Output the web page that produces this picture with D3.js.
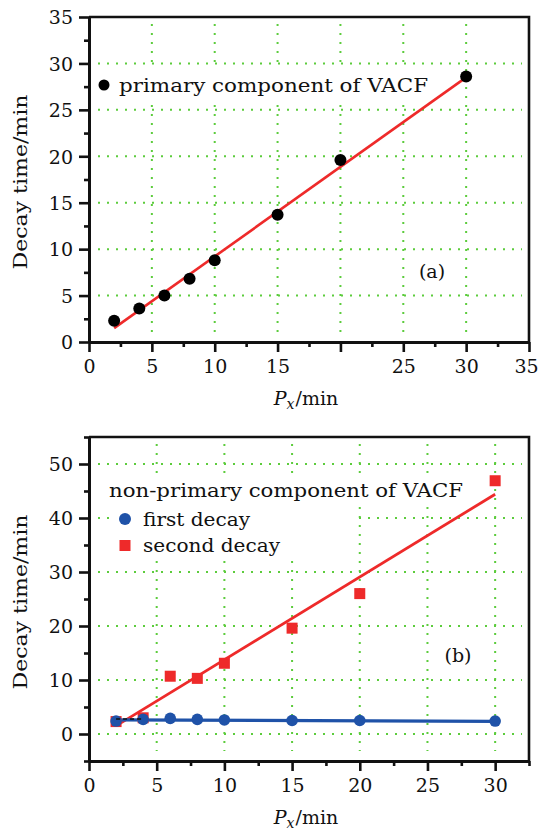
<!DOCTYPE html>
<html><head><meta charset="utf-8">
<script src="https://cdn.jsdelivr.net/npm/d3@7"></script>
<style>
body{margin:0;background:#fff;}
svg text{font-family:"DejaVu Serif",serif;fill:#111;}
</style></head>
<body>
<svg id="c" width="540" height="833"></svg>
<script>
// ---------- data ----------
const pxA = [2, 4, 6, 8, 10, 15, 20, 30];
const primary = [2.3, 3.6, 5.0, 6.8, 8.8, 13.7, 19.6, 28.6];
const fitPrimaryX = [2, 30];
const fitPrimaryY = [1.5, 28.5];
const xTicksA = [0, 5, 10, 15, 20, 25, 30, 35];
const xTickLabelsA = ["0", "5", "10", "15", "", "25", "30", "35"];
const yTicksA = [0, 5, 10, 15, 20, 25, 30, 35];

const pxB = [2, 4, 6, 8, 10, 15, 20, 30];
const firstDecay = [2.4, 2.7, 2.9, 2.7, 2.6, 2.5, 2.5, 2.4];
const secondDecay = [2.3, 3.0, 10.7, 10.3, 13.1, 19.6, 26.0, 46.9];
const fitFirstX = [2, 30];
const fitFirstY = [2.6, 2.35];
const fitSecondX = [2, 30];
const fitSecondY = [1.5, 44.4];
const xTicksB = [0, 5, 10, 15, 20, 25, 30];
const yTicksB = [0, 10, 20, 30, 40, 50];

// ---------- styling ----------
const RED = "#ee2a2a", BLUE = "#1f52a8", GREEN = "#5ccc3c";
const FONT = "DejaVu Serif";
const svg = d3.select("#c");

function panel(o) {
  const g = svg.append("g");
  const x = d3.scaleLinear().domain(o.xDomain).range([89, 529]);
  const y = d3.scaleLinear().domain(o.yDomain).range([o.bottom, o.top]);

  // grid
  const grid = g.append("g").attr("stroke", GREEN).attr("stroke-width", 2)
    .attr("stroke-dasharray", "2 7").attr("fill", "none");
  o.gridX.forEach(v => grid.append("line").attr("x1", x(v)).attr("x2", x(v))
    .attr("y1", o.top + 7).attr("y2", o.bottom - 10));
  o.gridY.forEach(v => grid.append("line").attr("y1", y(v)).attr("y2", y(v))
    .attr("x1", 98).attr("x2", 522));

  // legend backgrounds
  o.legendRects.forEach(r => g.append("rect").attr("x", r[0]).attr("y", r[1])
    .attr("width", r[2]).attr("height", r[3]).attr("fill", "#fff"));

  // frame top/right
  g.append("path").attr("d", `M${x.range()[0]},${o.top}H529V${o.bottom}`)
    .attr("fill", "none").attr("stroke", "#111").attr("stroke-width", 2.6);

  // axes
  const styleAxis = (sel) => {
    sel.select(".domain").attr("stroke", "#111").attr("stroke-width", 3);
    sel.selectAll(".tick line").attr("stroke", "#111").attr("stroke-width", 2.6);
  };
  const minorX = g.append("g").attr("transform", `translate(0,${o.bottom})`)
    .call(d3.axisBottom(x).tickValues(o.minorX).tickSize(5).tickSizeOuter(0).tickFormat(""));
  styleAxis(minorX);
  const minorY = g.append("g").attr("transform", `translate(89,0)`)
    .call(d3.axisLeft(y).tickValues(o.minorY).tickSize(5).tickSizeOuter(0).tickFormat(""));
  styleAxis(minorY);

  const ax = g.append("g").attr("transform", `translate(0,${o.bottom})`)
    .call(d3.axisBottom(x).tickValues(o.xTicks).tickSize(10).tickSizeOuter(0)
      .tickFormat((d, i) => o.xLabels[i]));
  styleAxis(ax);
  ax.selectAll("text").attr("y", 31).attr("dy", 0).attr("font-size", 19)
    .attr("font-family", FONT).attr("fill", "#111")
    .attr("x", d => (x(d) > 520 ? -3 : 0));
  const ay = g.append("g").attr("transform", `translate(89,0)`)
    .call(d3.axisLeft(y).tickValues(o.yTicks).tickSize(10).tickSizeOuter(0));
  styleAxis(ay);
  ay.selectAll("text").attr("x", -16).attr("dy", "0.36em").attr("font-size", 19)
    .attr("font-family", FONT).attr("fill", "#111");

  // axis titles
  g.append("text").attr("transform", `translate(27,${o.ylabelY}) rotate(-90)`)
    .attr("text-anchor", "middle").attr("font-size", 19)
    .attr("textLength", 175).attr("lengthAdjust", "spacingAndGlyphs")
    .text("Decay time/min");
  const xt = g.append("text").attr("x", 306).attr("y", o.bottom + 63)
    .attr("text-anchor", "middle").attr("font-size", 19);
  xt.append("tspan").attr("font-style", "italic").text("P");
  xt.append("tspan").attr("font-style", "italic").attr("font-size", 14).attr("dy", 4).text("x");
  xt.append("tspan").attr("dy", -4).attr("dx", 1).text("/min");

  g.append("text").attr("x", o.tag[0]).attr("y", o.tag[1]).attr("text-anchor", "middle")
    .attr("font-size", 19).text(o.tagText);
  return { g, x, y };
}

// ---------- panel (a) ----------
const A = panel({
  xDomain: [0, 35], yDomain: [0, 35], top: 17, bottom: 342,
  gridX: [5, 10, 15, 20, 25, 30], gridY: [5, 10, 15, 20, 25, 30],
  minorX: [2.5, 7.5, 12.5, 17.5, 22.5, 27.5, 32.5], minorY: [2.5, 7.5, 12.5, 17.5, 22.5, 27.5, 32.5],
  xTicks: xTicksA, xLabels: xTickLabelsA, yTicks: yTicksA,
  legendRects: [[93, 65, 340, 36]], ylabelY: 182, tag: [432, 278], tagText: "(a)"
});
A.g.append("path").datum(d3.zip(fitPrimaryX, fitPrimaryY))
  .attr("d", d3.line().x(d => A.x(d[0])).y(d => A.y(d[1])))
  .attr("stroke", RED).attr("stroke-width", 2.6).attr("fill", "none");
A.g.selectAll("circle.p").data(d3.zip(pxA, primary)).join("circle")
  .attr("cx", d => A.x(d[0])).attr("cy", d => A.y(d[1])).attr("r", 6).attr("fill", "#000");
A.g.append("circle").attr("cx", 104).attr("cy", 85).attr("r", 5.5).attr("fill", "#000");
A.g.append("text").attr("x", 119).attr("y", 92).attr("font-size", 19)
  .attr("textLength", 309).attr("lengthAdjust", "spacingAndGlyphs")
  .text("primary component of VACF");

// ---------- panel (b) ----------
const B = panel({
  xDomain: [0, 32.5], yDomain: [-5, 55], top: 437, bottom: 761,
  gridX: [5, 10, 15, 20, 25, 30], gridY: [0, 10, 20, 30, 40, 50],
  minorX: [2.5, 7.5, 12.5, 17.5, 22.5, 27.5, 32.5], minorY: [-5, 5, 15, 25, 35, 45, 55],
  xTicks: xTicksB, xLabels: xTicksB.map(String), yTicks: yTicksB,
  legendRects: [[106, 474, 362, 31], [113, 505, 243, 55]], ylabelY: 602, tag: [458, 662], tagText: "(b)"
});
B.g.append("path").datum(d3.zip(fitSecondX, fitSecondY))
  .attr("d", d3.line().x(d => B.x(d[0])).y(d => B.y(d[1])))
  .attr("stroke", RED).attr("stroke-width", 2.8).attr("fill", "none");
B.g.append("path").datum(d3.zip(fitFirstX, fitFirstY))
  .attr("d", d3.line().x(d => B.x(d[0])).y(d => B.y(d[1])))
  .attr("stroke", BLUE).attr("stroke-width", 3.2).attr("fill", "none");
B.g.selectAll("rect.s").data(d3.zip(pxB, secondDecay)).join("rect").attr("class", "s")
  .attr("x", d => B.x(d[0]) - 5.5).attr("y", d => B.y(d[1]) - 5.5)
  .attr("width", 11).attr("height", 11).attr("fill", RED);
B.g.selectAll("circle.f").data(d3.zip(pxB, firstDecay)).join("circle").attr("class", "f")
  .attr("cx", d => B.x(d[0])).attr("cy", d => B.y(d[1])).attr("r", 5.8).attr("fill", BLUE);
B.g.append("line").attr("x1", B.x(pxB[0])).attr("x2", B.x(pxB[1]))
  .attr("y1", B.y(fitFirstY[0]) - 1).attr("y2", B.y(fitFirstY[0]) - 1)
  .attr("stroke", "#111").attr("stroke-width", 1.5).attr("stroke-dasharray", "4 3");

B.g.append("text").attr("x", 109).attr("y", 497).attr("font-size", 19)
  .attr("textLength", 354).attr("lengthAdjust", "spacingAndGlyphs")
  .text("non-primary component of VACF");
B.g.append("circle").attr("cx", 125).attr("cy", 519).attr("r", 6).attr("fill", BLUE);
B.g.append("text").attr("x", 143).attr("y", 526).attr("font-size", 19)
  .attr("textLength", 107).attr("lengthAdjust", "spacingAndGlyphs").text("first decay");
B.g.append("rect").attr("x", 119.5).attr("y", 540).attr("width", 11).attr("height", 11).attr("fill", RED);
B.g.append("text").attr("x", 143).attr("y", 552).attr("font-size", 19)
  .attr("textLength", 137).attr("lengthAdjust", "spacingAndGlyphs").text("second decay");
</script>
</body></html>
